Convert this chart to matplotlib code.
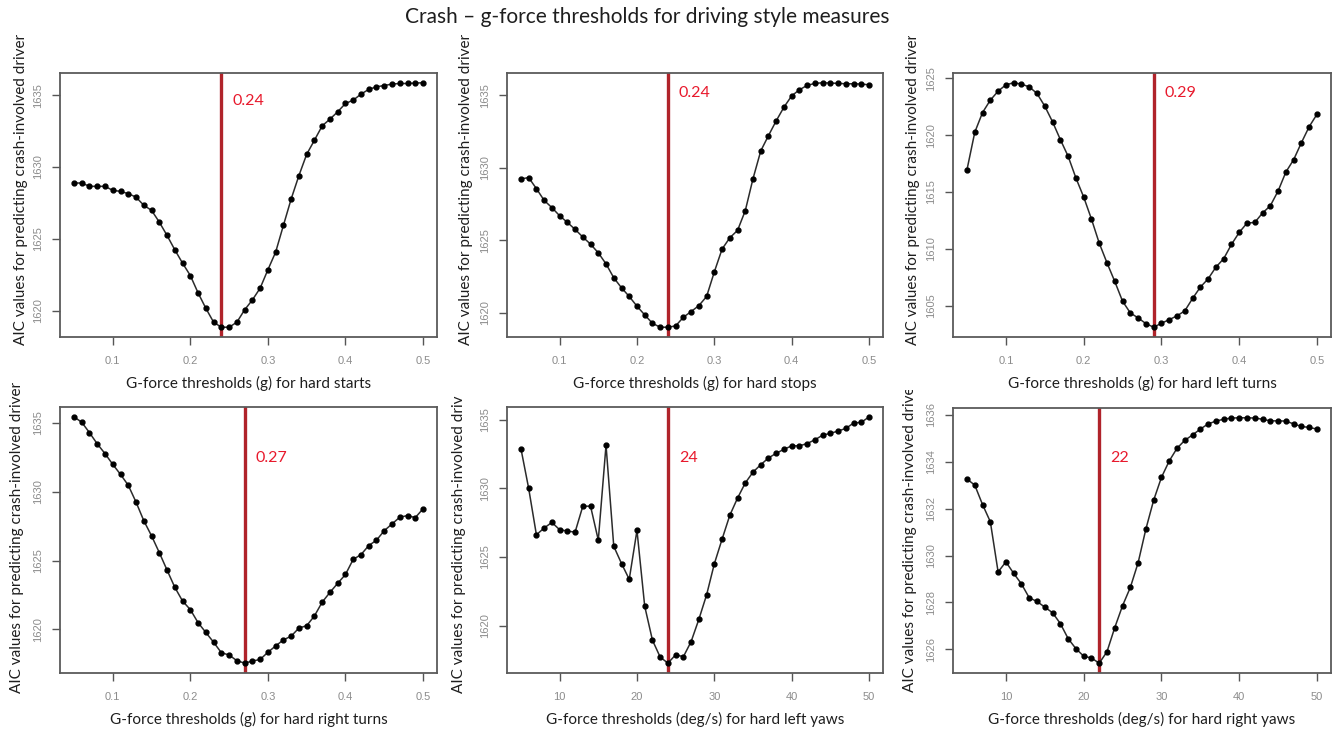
import numpy as np
import matplotlib
matplotlib.use("Agg")
import matplotlib.pyplot as plt
from matplotlib.transforms import Bbox, TransformedBbox

W, H = 1339, 731

# thresholds tested for each measure
g_thresholds = [round(0.05 + 0.01 * i, 2) for i in range(46)]
yaw_thresholds = list(range(5, 51))

aic_hard_starts = [
    1628.88, 1628.88, 1628.65, 1628.65, 1628.65, 1628.37, 1628.30, 1628.14, 1627.90, 1627.33,
    1626.98, 1626.16, 1625.23, 1624.23, 1623.30, 1622.44, 1621.23, 1620.16, 1619.19, 1618.84,
    1618.84, 1619.19, 1620.05, 1620.74, 1621.56, 1622.84, 1624.07, 1625.93, 1627.77, 1629.40,
    1630.88, 1631.86, 1632.86, 1633.33, 1633.84, 1634.42, 1634.65, 1635.07, 1635.40, 1635.58,
    1635.67, 1635.77, 1635.81, 1635.81, 1635.84, 1635.86]
aic_hard_stops = [
    1629.22, 1629.31, 1628.55, 1627.74, 1627.24, 1626.68, 1626.22, 1625.74, 1625.21, 1624.72,
    1624.12, 1623.36, 1622.40, 1621.71, 1621.11, 1620.44, 1619.84, 1619.26, 1618.99, 1618.99,
    1619.08, 1619.68, 1620.07, 1620.48, 1621.11, 1622.81, 1624.38, 1625.16, 1625.67, 1627.03,
    1629.24, 1631.15, 1632.21, 1633.23, 1634.17, 1634.95, 1635.37, 1635.67, 1635.81, 1635.85,
    1635.83, 1635.81, 1635.78, 1635.78, 1635.76, 1635.71]
aic_left_turns = [
    1616.97, 1620.26, 1622.00, 1623.09, 1623.88, 1624.44, 1624.62, 1624.50, 1624.26, 1623.68,
    1622.56, 1621.18, 1619.62, 1618.15, 1616.24, 1614.56, 1612.62, 1610.50, 1608.76, 1607.12,
    1605.38, 1604.35, 1603.91, 1603.41, 1603.09, 1603.44, 1603.76, 1604.09, 1604.53, 1605.62,
    1606.62, 1607.35, 1608.38, 1609.12, 1610.38, 1611.44, 1612.26, 1612.32, 1613.15, 1613.79,
    1615.09, 1616.76, 1617.85, 1619.35, 1620.76, 1621.85]
aic_right_turns = [
    1635.44, 1635.05, 1634.29, 1633.48, 1632.77, 1631.99, 1631.26, 1630.47, 1629.25, 1627.90,
    1626.80, 1625.58, 1624.31, 1623.06, 1622.06, 1621.44, 1620.49, 1619.78, 1619.07, 1618.31,
    1618.14, 1617.73, 1617.55, 1617.70, 1617.82, 1618.34, 1618.80, 1619.24, 1619.51, 1620.10,
    1620.27, 1620.98, 1621.98, 1622.69, 1623.35, 1623.99, 1625.09, 1625.43, 1626.09, 1626.48,
    1627.17, 1627.66, 1628.15, 1628.27, 1628.12, 1628.76]
aic_left_yaws = [
    1632.89, 1630.00, 1626.62, 1627.11, 1627.52, 1626.99, 1626.89, 1626.81, 1628.70, 1628.70,
    1626.23, 1633.14, 1625.78, 1624.53, 1623.38, 1626.94, 1621.42, 1618.95, 1617.72, 1617.28,
    1617.89, 1617.75, 1618.85, 1620.47, 1622.25, 1624.51, 1626.30, 1628.04, 1629.29, 1630.39,
    1631.18, 1631.72, 1632.21, 1632.55, 1632.84, 1633.09, 1633.09, 1633.26, 1633.53, 1633.87,
    1634.00, 1634.17, 1634.36, 1634.75, 1634.80, 1635.20]
aic_right_yaws = [
    1633.26, 1633.00, 1632.17, 1631.44, 1629.30, 1629.73, 1629.24, 1628.79, 1628.20, 1628.04,
    1627.80, 1627.56, 1627.10, 1626.46, 1626.03, 1625.71, 1625.63, 1625.41, 1625.90, 1626.93,
    1627.86, 1628.64, 1629.69, 1631.13, 1632.36, 1633.33, 1634.03, 1634.57, 1634.91, 1635.14,
    1635.39, 1635.61, 1635.73, 1635.81, 1635.86, 1635.87, 1635.87, 1635.86, 1635.81, 1635.74,
    1635.74, 1635.73, 1635.61, 1635.50, 1635.46, 1635.39]

best_thresholds = [0.24, 0.24, 0.29, 0.27, 24, 22]
best_labels = ["0.24", "0.24", "0.29", "0.27", "24", "22"]

x_labels = [
    "G-force thresholds (g) for hard starts",
    "G-force thresholds (g) for hard stops",
    "G-force thresholds (g) for hard left turns",
    "G-force thresholds (g) for hard right turns",
    "G-force thresholds (deg/s) for hard left yaws",
    "G-force thresholds (deg/s) for hard right yaws",
]
y_label = "AIC values for predicting crash-involved driver"

g_ticks = [0.1, 0.2, 0.3, 0.4, 0.5]
yaw_ticks = [10, 20, 30, 40, 50]
aic_ticks = [1620, 1625, 1630, 1635]
left_turn_ticks = [1605, 1610, 1615, 1620, 1625]
right_yaw_ticks = [1626, 1628, 1630, 1632, 1634, 1636]

panels = [
    (g_thresholds, aic_hard_starts, g_ticks, aic_ticks),
    (g_thresholds, aic_hard_stops, g_ticks, aic_ticks),
    (g_thresholds, aic_left_turns, g_ticks, left_turn_ticks),
    (g_thresholds, aic_right_turns, g_ticks, aic_ticks),
    (yaw_thresholds, aic_left_yaws, yaw_ticks, aic_ticks),
    (yaw_thresholds, aic_right_yaws, yaw_ticks, right_yaw_ticks),
]

# pixel layout: axes box (left, top, right, bottom), y-label x centre, y-label bottom,
# y-label clip top, best-value text height (axes fraction)
layout = [
    ((60, 73, 437, 337), 21, 345, 20, 0.894),
    ((507, 73, 883, 337), 466, 345, 28, 0.924),
    ((953, 73, 1331, 337), 913, 345, 36, 0.924),
    ((60, 407, 437, 673), 17, 693, 372, 0.81),
    ((507, 407, 883, 673), 459, 693, 396, 0.81),
    ((953, 408, 1331, 673), 910, 692, 390, 0.81),
]

LABEL_FONT = ["Lato", "DejaVu Sans"]
TICK_FONT = ["Liberation Sans", "DejaVu Sans"]

fig = plt.figure(figsize=(W / 100, H / 100), dpi=100)
fig.patch.set_facecolor("white")


def fx(px):
    return px / W


def fy(py):
    return 1 - py / H


for i, (x, y, xt, yt) in enumerate(panels):
    (l, t, r, b), ylx, ylb, clip_top, text_y = layout[i]
    ax = fig.add_axes([fx(l), fy(b), (r - l) / W, (b - t) / H])
    ax.plot(x, y, color="#2b2b2b", lw=1.1, marker="o", ms=3.5,
            mfc="black", mec="black", zorder=3)
    ax.margins(0.04)
    ax.axvline(best_thresholds[i], color="#b0232a", lw=2.4, zorder=2)
    ax.annotate(best_labels[i], xy=(best_thresholds[i], text_y),
                xycoords=("data", "axes fraction"), xytext=(11, 0),
                textcoords="offset pixels", ha="left", va="center",
                color="#e8192c", fontsize=11.5, family=LABEL_FONT)

    ax.set_xticks(xt)
    ax.set_xticklabels([f"{v:g}" for v in xt])
    ax.set_yticks(yt)
    ax.set_yticklabels([str(v) for v in yt], rotation=90, va="center")
    ax.tick_params(length=6, width=1.0, color="#555555", labelcolor="#8c8c8c",
                   labelsize=8)
    ax.tick_params(axis="x", pad=8)
    ax.tick_params(axis="y", pad=6)
    for lab in ax.get_xticklabels() + ax.get_yticklabels():
        lab.set_family(TICK_FONT)
    for s in ax.spines.values():
        s.set_color("#5a5a5a")
        s.set_linewidth(1.3)

    fig.text(fx((l + r) / 2), fy(b + 46), x_labels[i], ha="center", va="center",
             fontsize=11, color="#1e1e1e", family=LABEL_FONT)

    yl = fig.text(fx(ylx), fy(ylb), y_label, rotation=90, ha="center", va="bottom",
                  fontsize=11, color="#1e1e1e", family=LABEL_FONT)
    clip = TransformedBbox(Bbox.from_extents(0, 0, 1, fy(clip_top)), fig.transFigure)
    yl.set_clip_box(clip)
    yl.set_clip_on(True)

fig.text(fx(647), fy(17), "Crash \u2013 g-force thresholds for driving style measures",
         ha="center", va="center", fontsize=15, color="#1e1e1e", family=LABEL_FONT)

fig.savefig("out.png", dpi=100)
